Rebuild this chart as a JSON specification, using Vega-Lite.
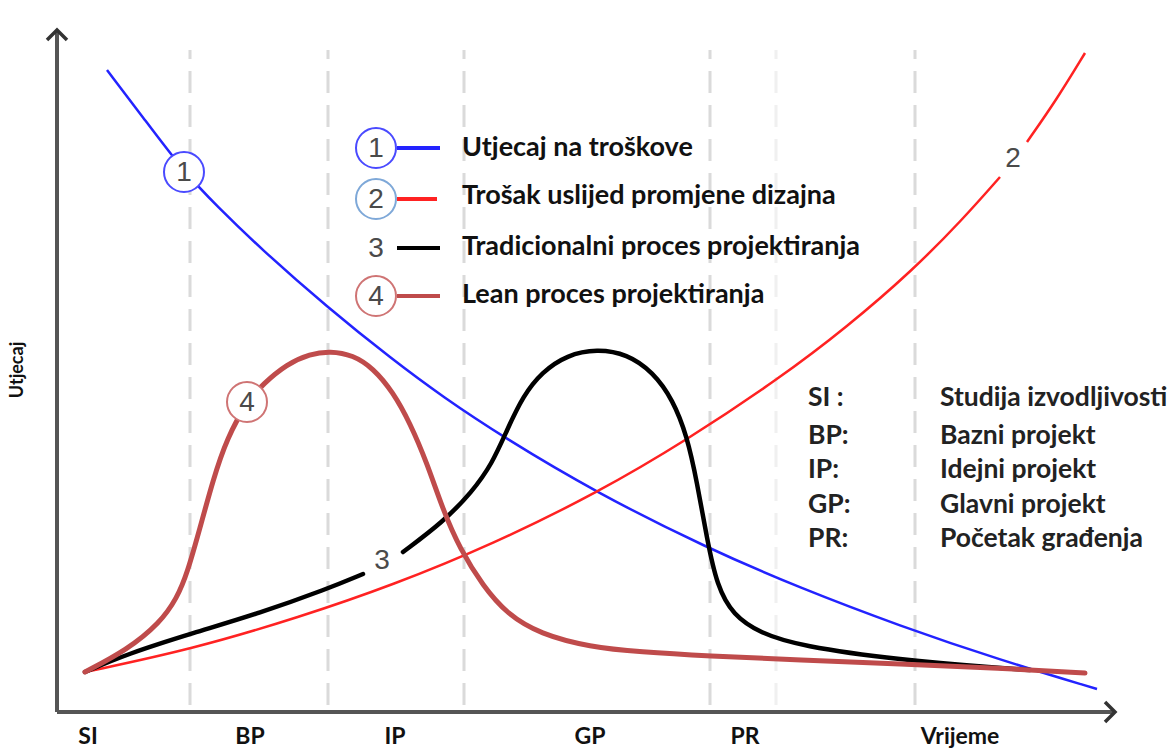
{
  "$schema": "https://vega.github.io/schema/vega-lite/v6.json",
  "width": 1174,
  "height": 749,
  "autosize": {"type": "fit", "contains": "padding"},
  "padding": 0,
  "background": "white",
  "config": {"view": {"stroke": null}},
  "datasets": {
    "curves": [
      {"s": "1", "seg": "a", "x": 5.0, "y": 64.2},
      {"s": "1", "seg": "a", "x": 8.5, "y": 59.6},
      {"s": "1", "seg": "a", "x": 12.7, "y": 54.0},
      {"s": "1", "seg": "a", "x": 16.0, "y": 50.6},
      {"s": "1", "seg": "a", "x": 20.3, "y": 46.4},
      {"s": "1", "seg": "a", "x": 27.0, "y": 40.5},
      {"s": "1", "seg": "a", "x": 33.6, "y": 35.2},
      {"s": "1", "seg": "a", "x": 38.6, "y": 31.5},
      {"s": "1", "seg": "a", "x": 44.6, "y": 27.5},
      {"s": "1", "seg": "a", "x": 54.0, "y": 21.9},
      {"s": "1", "seg": "a", "x": 65.0, "y": 16.4},
      {"s": "1", "seg": "a", "x": 74.3, "y": 12.4},
      {"s": "1", "seg": "a", "x": 84.3, "y": 8.6},
      {"s": "1", "seg": "a", "x": 94.3, "y": 5.2},
      {"s": "1", "seg": "a", "x": 104.0, "y": 2.3},
      {"s": "2", "seg": "a", "x": 2.8, "y": 4.0},
      {"s": "2", "seg": "a", "x": 13.6, "y": 6.3},
      {"s": "2", "seg": "a", "x": 24.3, "y": 9.5},
      {"s": "2", "seg": "a", "x": 33.6, "y": 12.7},
      {"s": "2", "seg": "a", "x": 43.6, "y": 16.8},
      {"s": "2", "seg": "a", "x": 54.0, "y": 21.9},
      {"s": "2", "seg": "a", "x": 63.0, "y": 27.2},
      {"s": "2", "seg": "a", "x": 72.3, "y": 33.4},
      {"s": "2", "seg": "a", "x": 79.0, "y": 38.5},
      {"s": "2", "seg": "a", "x": 85.6, "y": 44.2},
      {"s": "2", "seg": "a", "x": 90.6, "y": 49.3},
      {"s": "2", "seg": "a", "x": 94.3, "y": 53.5},
      {"s": "2", "seg": "b", "x": 97.0, "y": 57.0},
      {"s": "2", "seg": "b", "x": 100.0, "y": 61.3},
      {"s": "2", "seg": "b", "x": 102.8, "y": 65.9},
      {"s": "3", "seg": "a", "x": 2.8, "y": 4.0},
      {"s": "3", "seg": "a", "x": 7.0, "y": 5.8},
      {"s": "3", "seg": "a", "x": 13.6, "y": 7.9},
      {"s": "3", "seg": "a", "x": 20.3, "y": 9.9},
      {"s": "3", "seg": "a", "x": 27.0, "y": 12.3},
      {"s": "3", "seg": "a", "x": 30.6, "y": 13.8},
      {"s": "3", "seg": "b", "x": 34.6, "y": 16.0},
      {"s": "3", "seg": "b", "x": 38.6, "y": 19.0},
      {"s": "3", "seg": "b", "x": 41.5, "y": 22.0},
      {"s": "3", "seg": "b", "x": 43.5, "y": 24.8},
      {"s": "3", "seg": "b", "x": 45.0, "y": 28.2},
      {"s": "3", "seg": "b", "x": 46.6, "y": 31.6},
      {"s": "3", "seg": "b", "x": 48.5, "y": 34.0},
      {"s": "3", "seg": "b", "x": 51.0, "y": 35.7},
      {"s": "3", "seg": "b", "x": 54.0, "y": 36.3},
      {"s": "3", "seg": "b", "x": 57.0, "y": 35.8},
      {"s": "3", "seg": "b", "x": 59.6, "y": 34.0},
      {"s": "3", "seg": "b", "x": 61.6, "y": 31.2},
      {"s": "3", "seg": "b", "x": 63.0, "y": 27.6},
      {"s": "3", "seg": "b", "x": 64.0, "y": 23.0},
      {"s": "3", "seg": "b", "x": 65.0, "y": 17.3},
      {"s": "3", "seg": "b", "x": 66.0, "y": 12.6},
      {"s": "3", "seg": "b", "x": 67.6, "y": 9.7},
      {"s": "3", "seg": "b", "x": 70.3, "y": 7.9},
      {"s": "3", "seg": "b", "x": 74.3, "y": 6.6},
      {"s": "3", "seg": "b", "x": 84.3, "y": 5.2},
      {"s": "3", "seg": "b", "x": 94.3, "y": 4.4},
      {"s": "3", "seg": "b", "x": 97.3, "y": 4.2},
      {"s": "4", "seg": "a", "x": 2.8, "y": 4.0},
      {"s": "4", "seg": "a", "x": 7.0, "y": 6.2},
      {"s": "4", "seg": "a", "x": 10.3, "y": 8.9},
      {"s": "4", "seg": "a", "x": 12.0, "y": 11.4},
      {"s": "4", "seg": "a", "x": 13.0, "y": 13.8},
      {"s": "4", "seg": "a", "x": 14.3, "y": 18.4},
      {"s": "4", "seg": "a", "x": 15.6, "y": 23.2},
      {"s": "4", "seg": "a", "x": 17.0, "y": 27.4},
      {"s": "4", "seg": "a", "x": 19.0, "y": 31.0},
      {"s": "4", "seg": "a", "x": 20.6, "y": 32.8},
      {"s": "4", "seg": "a", "x": 23.0, "y": 34.8},
      {"s": "4", "seg": "a", "x": 25.3, "y": 35.8},
      {"s": "4", "seg": "a", "x": 27.3, "y": 36.1},
      {"s": "4", "seg": "a", "x": 29.6, "y": 35.7},
      {"s": "4", "seg": "a", "x": 31.6, "y": 34.4},
      {"s": "4", "seg": "a", "x": 33.6, "y": 32.0},
      {"s": "4", "seg": "a", "x": 35.3, "y": 28.9},
      {"s": "4", "seg": "a", "x": 37.0, "y": 24.9},
      {"s": "4", "seg": "a", "x": 38.6, "y": 20.2},
      {"s": "4", "seg": "a", "x": 40.3, "y": 16.3},
      {"s": "4", "seg": "a", "x": 42.6, "y": 12.6},
      {"s": "4", "seg": "a", "x": 45.0, "y": 9.8},
      {"s": "4", "seg": "a", "x": 48.3, "y": 7.8},
      {"s": "4", "seg": "a", "x": 53.3, "y": 6.5},
      {"s": "4", "seg": "a", "x": 58.3, "y": 6.0},
      {"s": "4", "seg": "a", "x": 65.0, "y": 5.6},
      {"s": "4", "seg": "a", "x": 74.3, "y": 5.2},
      {"s": "4", "seg": "a", "x": 84.3, "y": 4.8},
      {"s": "4", "seg": "a", "x": 94.3, "y": 4.4},
      {"s": "4", "seg": "a", "x": 102.8, "y": 3.9}
    ],
    "dashes": [
      {"x": 13.3, "y": 0.7, "y2": 66.2, "k": "a"},
      {"x": 27.1, "y": 0.7, "y2": 66.2, "k": "a"},
      {"x": 40.7, "y": 0.7, "y2": 66.2, "k": "a"},
      {"x": 65.3, "y": 0.7, "y2": 66.2, "k": "a"},
      {"x": 71.9, "y": 0.7, "y2": 66.2, "k": "b"},
      {"x": 85.8, "y": 0.7, "y2": 66.2, "k": "a"}
    ],
    "axes": [
      {"x": 0, "y": 0, "x2": 0, "y2": 68.0},
      {"x": 0, "y": 0, "x2": 105.6, "y2": 0}
    ],
    "arrows": [
      {"x": 0, "y": 68.2, "dir": "up"},
      {"x": 105.8, "y": 0, "dir": "right"}
    ],
    "legendLines": [
      {"s": "1", "x": 34.0, "x2": 38.3, "y": 56.4},
      {"s": "2", "x": 34.0, "x2": 38.0, "y": 51.3},
      {"s": "3", "x": 34.0, "x2": 38.3, "y": 46.4},
      {"s": "4", "x": 34.0, "x2": 38.3, "y": 41.6}
    ],
    "circles": [
      {"s": "1", "x": 12.7, "y": 54.0},
      {"s": "4", "x": 19.0, "y": 31.0},
      {"s": "1", "x": 31.9, "y": 56.4},
      {"s": "2", "x": 31.9, "y": 51.3},
      {"s": "4", "x": 31.9, "y": 41.6}
    ],
    "numbers": [
      {"t": "1", "x": 12.7, "y": 54.0},
      {"t": "4", "x": 19.0, "y": 31.0},
      {"t": "1", "x": 31.9, "y": 56.4},
      {"t": "2", "x": 31.9, "y": 51.3},
      {"t": "3", "x": 31.9, "y": 46.4},
      {"t": "4", "x": 31.9, "y": 41.6},
      {"t": "2", "x": 95.6, "y": 55.4},
      {"t": "3", "x": 32.5, "y": 15.2}
    ],
    "legendText": [
      {"t": "Utjecaj na troškove", "x": 40.5, "y": 56.4},
      {"t": "Trošak uslijed promjene dizajna", "x": 40.5, "y": 51.6},
      {"t": "Tradicionalni proces projektiranja", "x": 40.5, "y": 46.5},
      {"t": "Lean proces projektiranja", "x": 40.5, "y": 41.7}
    ],
    "abbr": [
      {"t": "SI :", "x": 75.1, "y": 31.4},
      {"t": "BP:", "x": 75.1, "y": 27.6},
      {"t": "IP:", "x": 75.1, "y": 24.2},
      {"t": "GP:", "x": 75.1, "y": 20.7},
      {"t": "PR:", "x": 75.1, "y": 17.3},
      {"t": "Studija izvodljivosti", "x": 88.3, "y": 31.4},
      {"t": "Bazni projekt", "x": 88.3, "y": 27.6},
      {"t": "Idejni projekt", "x": 88.3, "y": 24.2},
      {"t": "Glavni projekt", "x": 88.3, "y": 20.7},
      {"t": "Početak građenja", "x": 88.3, "y": 17.3}
    ],
    "xlabels": [
      {"t": "SI", "x": 3.1, "y": -2.5},
      {"t": "BP", "x": 19.3, "y": -2.5},
      {"t": "IP", "x": 33.8, "y": -2.5},
      {"t": "GP", "x": 53.3, "y": -2.5},
      {"t": "PR", "x": 68.8, "y": -2.5},
      {"t": "Vrijeme", "x": 90.3, "y": -2.5}
    ],
    "ylabel": [
      {"t": "Utjecaj", "x": -3.9, "y": 34.2}
    ]
  },
  "encoding": {
    "x": {"field": "x", "type": "quantitative", "scale": {"domain": [-5.7, 111.7], "nice": false, "zero": false}, "axis": null},
    "y": {"field": "y", "type": "quantitative", "scale": {"domain": [-3.7, 71.2], "nice": false, "zero": false}, "axis": null}
  },
  "layer": [
    {
      "data": {"name": "dashes"},
      "mark": {"type": "rule", "strokeDash": [22, 12], "color": "#dadada", "strokeWidth": 3},
      "encoding": {
        "y2": {"field": "y2"},
        "opacity": {"field": "k", "type": "nominal", "scale": {"domain": ["a", "b"], "range": [1, 0.4]}, "legend": null}
      }
    },
    {
      "data": {"name": "axes"},
      "mark": {"type": "rule", "color": "#555555", "strokeWidth": 4},
      "encoding": {"x2": {"field": "x2"}, "y2": {"field": "y2"}}
    },
    {
      "data": {"name": "arrows"},
      "mark": {"type": "point", "filled": false, "strokeWidth": 3.5, "color": "#333333", "opacity": 1},
      "encoding": {
        "shape": {"field": "dir", "type": "nominal", "scale": {"domain": ["up", "right"], "range": ["M-1,1L0,0L1,1", "M-1,-1L0,0L-1,1"]}, "legend": null},
        "size": {"value": 400}
      }
    },
    {
      "data": {"name": "curves"},
      "transform": [{"filter": "datum.s == '1'"}],
      "mark": {"type": "line", "interpolate": "basis", "color": "#2323ff", "strokeWidth": 2.5},
      "encoding": {"detail": {"field": "seg"}, "order": {"field": "x", "type": "quantitative"}}
    },
    {
      "data": {"name": "curves"},
      "transform": [{"filter": "datum.s == '2'"}],
      "mark": {"type": "line", "interpolate": "basis", "color": "#ff2222", "strokeWidth": 2.5},
      "encoding": {"detail": {"field": "seg"}, "order": {"field": "x", "type": "quantitative"}}
    },
    {
      "data": {"name": "curves"},
      "transform": [{"filter": "datum.s == '3'"}],
      "mark": {"type": "line", "interpolate": "basis", "color": "#000000", "strokeWidth": 4.5, "strokeCap": "round"},
      "encoding": {"detail": {"field": "seg"}, "order": {"field": "x", "type": "quantitative"}}
    },
    {
      "data": {"name": "curves"},
      "transform": [{"filter": "datum.s == '4'"}],
      "mark": {"type": "line", "interpolate": "basis", "color": "#bf4b4b", "strokeWidth": 5, "strokeCap": "round"},
      "encoding": {"detail": {"field": "seg"}, "order": {"field": "x", "type": "quantitative"}}
    },
    {
      "data": {"name": "legendLines"},
      "mark": {"type": "rule"},
      "encoding": {
        "x2": {"field": "x2"},
        "color": {"field": "s", "type": "nominal", "scale": {"domain": ["1", "2", "3", "4"], "range": ["#2323ff", "#ff2222", "#000000", "#bf4b4b"]}, "legend": null},
        "strokeWidth": {"field": "s", "type": "nominal", "scale": {"domain": ["1", "2", "3", "4"], "range": [4, 4, 6.5, 5]}, "legend": null}
      }
    },
    {
      "data": {"name": "circles"},
      "mark": {"type": "point", "shape": "circle", "filled": false, "fill": "white", "fillOpacity": 1, "strokeWidth": 2, "opacity": 1},
      "encoding": {
        "size": {"value": 1600},
        "stroke": {"field": "s", "type": "nominal", "scale": {"domain": ["1", "2", "4"], "range": ["#4a4aff", "#7ea8d8", "#cf7474"]}, "legend": null}
      }
    },
    {
      "data": {"name": "numbers"},
      "mark": {"type": "text", "font": "Liberation Sans", "fontSize": 28, "color": "#4a4a4a", "baseline": "middle", "align": "center", "dy": 1},
      "encoding": {"text": {"field": "t"}}
    },
    {
      "data": {"name": "legendText"},
      "mark": {"type": "text", "font": "Lato", "fontWeight": "bold", "fontSize": 27, "color": "#111111", "baseline": "middle", "align": "left"},
      "encoding": {"text": {"field": "t"}}
    },
    {
      "data": {"name": "abbr"},
      "mark": {"type": "text", "font": "Lato", "fontWeight": "bold", "fontSize": 26.5, "color": "#222222", "baseline": "middle", "align": "left"},
      "encoding": {"text": {"field": "t"}}
    },
    {
      "data": {"name": "xlabels"},
      "mark": {"type": "text", "font": "Lato", "fontWeight": "bold", "fontSize": 23, "color": "#111111", "baseline": "middle", "align": "center"},
      "encoding": {"text": {"field": "t"}}
    },
    {
      "data": {"name": "ylabel"},
      "mark": {"type": "text", "font": "Lato", "fontWeight": "bold", "fontSize": 18, "color": "#111111", "baseline": "middle", "align": "center", "angle": 270},
      "encoding": {"text": {"field": "t"}}
    }
  ]
}
